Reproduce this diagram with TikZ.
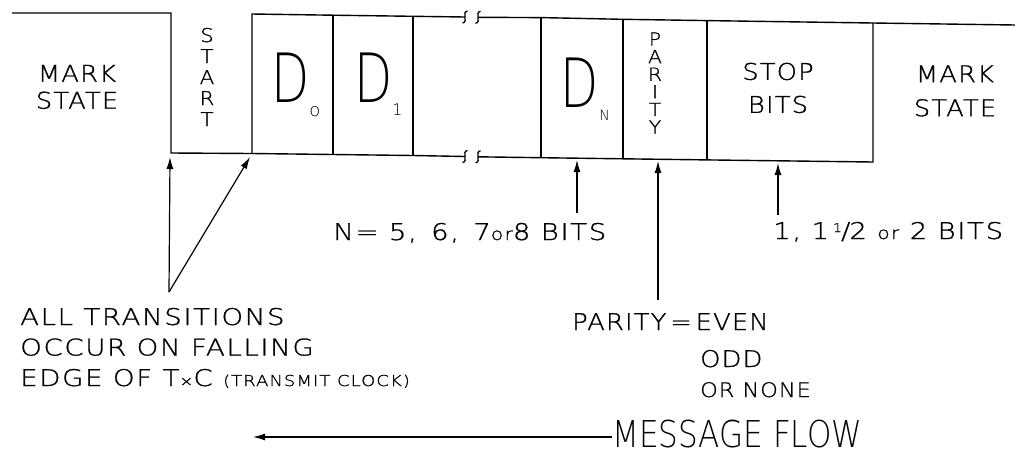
\documentclass[tikz,border=0pt]{standalone}
\usepackage{fontspec}
\setmainfont{DejaVu Sans ExtraLight}
\newfontfamily\hand[FakeStretch=1.12,LetterSpace=5,FakeBold=1]{DejaVu Sans ExtraLight}
\newfontfamily\handw[FakeStretch=1.2,LetterSpace=7,FakeBold=1]{DejaVu Sans ExtraLight}
\newfontfamily\tall{DejaVu Sans ExtraLight}
\usetikzlibrary{arrows.meta}
\newcommand{\fs}[2]{\fontsize{#1}{#2}\selectfont}
\newcommand{\bigD}{\scalebox{0.73}[1]{\fs{68}{68}\tall D}}
\tikzset{
  wave/.style={line width=1.4pt, line join=miter},
  lab/.style={inner sep=0pt, font=\hand\fs{23}{28}, align=center},
  blab/.style={inner sep=0pt, font=\handw\fs{23}{30.5}, align=left, anchor=base west},
  plab/.style={inner sep=0pt, font=\hand\fs{23}{23}, anchor=base west},
  vert/.style={inner sep=0pt, align=center},
  dnode/.style={inner sep=0pt, anchor=base west},
  ptr/.style={line width=1.2pt, -{Latex[length=12pt,width=7pt]}},
  brk/.style={line width=1.3pt}
}
\begin{document}
\begin{tikzpicture}[x=1pt,y=-1pt]
\useasboundingbox (0,0) rectangle (1015,456);
% ---- waveform corners ----
\coordinate (m0) at (12,13);
\coordinate (f1t) at (171,13);
\coordinate (f1b) at (171,153);
\coordinate (r1b) at (252,153.5);
\coordinate (r1t) at (252,14);
\coordinate (t413) at (413,16.3);
\coordinate (b413) at (413,155.5);
\coordinate (t333) at (333,15.2);
\coordinate (b333) at (333,154.5);
\coordinate (tb1) at (465,17);
\coordinate (tb2) at (478,17.3);
\coordinate (bb1) at (465,156.5);
\coordinate (bb2) at (478,156.8);
\coordinate (t541) at (541,17.6);
\coordinate (b541) at (541,157.7);
\coordinate (t623) at (623,19.3);
\coordinate (b623) at (623,158.8);
\coordinate (t707) at (707,20.6);
\coordinate (b707) at (707,159.9);
\coordinate (t873) at (873,23);
\coordinate (b873) at (873,162);
\coordinate (tend) at (1015,25);
% outline
\draw[wave] (m0) -- (f1t) -- (f1b) -- (r1b) -- (b333) -- (b413) -- (bb1);
\draw[wave] (r1b) -- (r1t) -- (t333) -- (t413) -- (tb1);
\draw[wave] (tb2) -- (t541) -- (t623) -- (t707) -- (t873) -- (tend);
\draw[wave] (bb2) -- (b541) -- (b623) -- (b707) -- (b873) -- (t873);
\draw[wave] (t333) -- (b333);
\draw[wave] (t413) -- (b413);
\draw[wave] (t541) -- (b541);
\draw[wave] (t623) -- (b623);
\draw[wave] (t707) -- (b707);
% break marks
\foreach \c in {tb1,tb2,bb1,bb2}{
  \draw[brk] ([shift={(-2.5,6)}]\c) .. controls ([shift={(4,5)}]\c) and ([shift={(-4,-5)}]\c) .. ([shift={(2.5,-6)}]\c);
}
% ---- box labels ----
\node[lab, font=\hand\fs{23}{27}] (markL) at (77,87) {MARK\\STATE};
\node[vert, font=\hand\fs{19}{21}] (start) at (207,77) {S\\T\\A\\R\\T};
\node[dnode] (d0) at (271,102) {\bigD\raisebox{-14pt}{\tall\fs{18}{18}o}};
\node[dnode] (d1) at (354,102) {\bigD\raisebox{-13pt}{\tall\fs{16}{16}1}};
\node[dnode] (dn) at (560,107) {\bigD\kern1pt\raisebox{-13pt}{\tall\fs{14}{14}N}};
\node[vert, font=\hand\fs{18}{17.6}] (par) at (655,83) {P\\A\\R\\I\\T\\Y};
\node[lab, font=\hand\fs{23}{33}] (stop) at (778,88) {STOP\\BITS};
\node[lab, font=\hand\fs{23}{34}] (markR) at (955,91) {MARK\\STATE};
% ---- lower labels ----
\node[blab] (all) at (20,386) {ALL TRANSITIONS\\OCCUR ON FALLING\\EDGE OF T{\fs{14}{14}×}C {\fs{15}{15}(TRANSMIT CLOCK)}};
\node[blab] (nbits) at (333,240) {N= 5,\, 6,\, 7{\fs{17}{17}or}8 BITS};
\node[blab] (sbits) at (773,239) {1, 1\,{\fs{12}{12}\raisebox{7pt}{1}}\kern-1pt/\kern-1pt2 {\fs{17}{17}or} 2 BITS};
\node[plab] (peven) at (572,330) {PARITY\,=\,EVEN};
\node[plab] (podd) at (700,367) {ODD};
\node[plab, font=\hand\fs{20}{20}] (pnone) at (700,397) {OR NONE};
\node[inner sep=0pt, anchor=base west] (flow) at (612,447) {\scalebox{0.84}[1]{\tall\fs{37}{37}MESSAGE FLOW}};
% ---- pointers ----
\coordinate (apex) at (169,292);
\coordinate (fallpt) at (170,157);
\coordinate (risept) at (250,157);
\coordinate (dnfoot) at (577,213);
\coordinate (dnpt) at (577,160);
\coordinate (pfoot) at (658,300);
\coordinate (ppt) at (658,161);
\coordinate (sfoot) at (778,215);
\coordinate (spt) at (778,163);
\coordinate (flowtip) at (253,437);
\draw[ptr] (apex) -- (fallpt);
\draw[ptr] (apex) -- (risept);
\draw[ptr] (dnfoot) -- (dnpt);
\draw[ptr] (pfoot) -- (ppt);
\draw[ptr] (sfoot) -- (spt);
\draw[ptr] (flowtip -| flow.west) -- (flowtip);
\end{tikzpicture}
\end{document}
